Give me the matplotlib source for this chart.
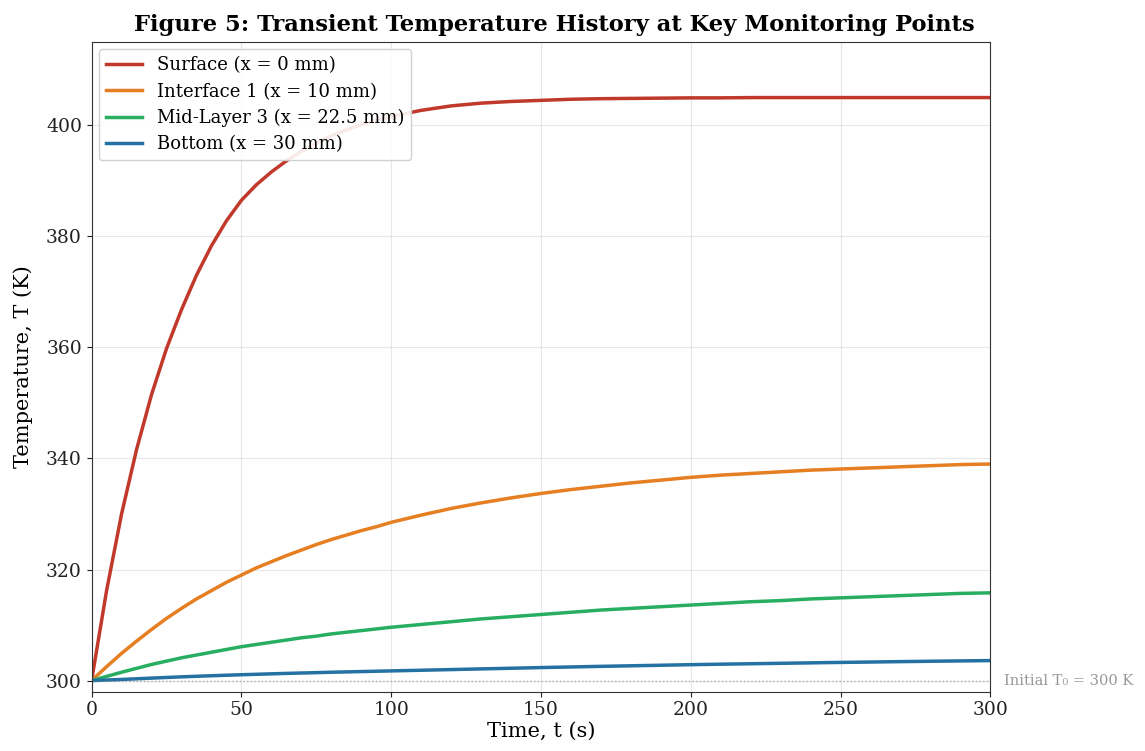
import matplotlib
matplotlib.use('Agg')
import matplotlib.pyplot as plt

plt.rcParams['font.family'] = 'DejaVu Serif'

# time samples (s)
time_s = [0, 5, 10, 15, 20, 25, 30, 35, 40, 45, 50, 55, 60, 65, 70, 75, 80, 85, 90, 95, 100,
          110, 120, 130, 140, 150, 160, 170, 180, 190, 200,
          210, 220, 230, 240, 250, 260, 270, 280, 290, 300]

# temperatures (K)
surface = [300, 316.2, 330, 341.6, 351.5, 359.8, 366.8, 373.0, 378.3, 382.8, 386.5,
           389.3, 391.6, 393.6, 395.3, 396.8, 398.1, 399.2, 400.1, 400.9, 401.6,
           402.7, 403.5, 404.0, 404.3, 404.5, 404.7, 404.8, 404.85, 404.9, 404.95,
           404.95, 405, 405, 405, 405, 405, 405, 405, 405, 405]
interface1 = [300, 302.5, 304.9, 307.1, 309.2, 311.2, 313.0, 314.7, 316.2, 317.7, 319.0,
              320.3, 321.4, 322.5, 323.5, 324.5, 325.4, 326.2, 327.0, 327.7, 328.5,
              329.8, 331.0, 332.0, 332.9, 333.7, 334.4, 335.0, 335.6, 336.1, 336.6,
              337.0, 337.3, 337.6, 337.9, 338.1, 338.3, 338.5, 338.7, 338.9, 339.0]
mid_layer3 = [300, 300.75, 301.5, 302.2, 302.9, 303.5, 304.1, 304.6, 305.1, 305.6, 306.1,
              306.5, 306.9, 307.3, 307.7, 308.0, 308.4, 308.7, 309.0, 309.3, 309.6,
              310.1, 310.6, 311.1, 311.5, 311.9, 312.3, 312.7, 313.0, 313.3, 313.6,
              313.9, 314.2, 314.4, 314.7, 314.9, 315.1, 315.3, 315.5, 315.7, 315.8]
bottom = [300, 300.1, 300.2, 300.32, 300.44, 300.56, 300.67, 300.77, 300.87, 300.96, 301.05,
          301.13, 301.21, 301.29, 301.36, 301.43, 301.5, 301.56, 301.62, 301.68, 301.74,
          301.86, 301.98, 302.1, 302.22, 302.34, 302.45, 302.56, 302.66, 302.76, 302.86,
          302.95, 303.03, 303.11, 303.19, 303.27, 303.34, 303.41, 303.48, 303.54, 303.6]

labels = ['Surface (x = 0 mm)', 'Interface 1 (x = 10 mm)',
          'Mid-Layer 3 (x = 22.5 mm)', 'Bottom (x = 30 mm)']
colors = ['#c0392b', '#e67e22', '#27ae60', '#2471a3']
T0 = 300

fig = plt.figure(figsize=(11.45, 7.51), dpi=100)
ax = fig.add_axes([0.080, 0.079, 0.785, 0.865])

for series, lab, col in zip([surface, interface1, mid_layer3, bottom], labels, colors):
    ax.plot(time_s, series, color=col, linewidth=2.5, label=lab)

ax.axhline(T0, color='gray', linestyle=':', linewidth=1, alpha=0.6)
ax.text(1.015, (T0 - 298) / (415 - 298), 'Initial T\u2080 = 300 K', transform=ax.transAxes,
        color='gray', fontsize=10.5, va='center', ha='left', alpha=0.8)

ax.set_xlim(0, 300)
ax.set_ylim(298, 415)
ax.set_xticks(range(0, 301, 50))
ax.set_yticks(range(300, 401, 20))
ax.tick_params(labelsize=13.5, colors='#222222')
for sp in ax.spines.values():
    sp.set_color('#333333')
ax.grid(True, color='#dddddd', linewidth=0.8, alpha=0.7)

ax.set_xlabel('Time, t (s)', fontsize=15, labelpad=2)
ax.set_ylabel('Temperature, T (K)', fontsize=15, labelpad=9)
ax.set_title('Figure 5: Transient Temperature History at Key Monitoring Points',
             fontsize=16.3, fontweight='bold', pad=8, x=0.515)

ax.legend(loc='upper left', fontsize=13, framealpha=0.9, borderaxespad=0.4,
          handlelength=2.0, labelspacing=0.45)

plt.savefig('out.png', dpi=100)
